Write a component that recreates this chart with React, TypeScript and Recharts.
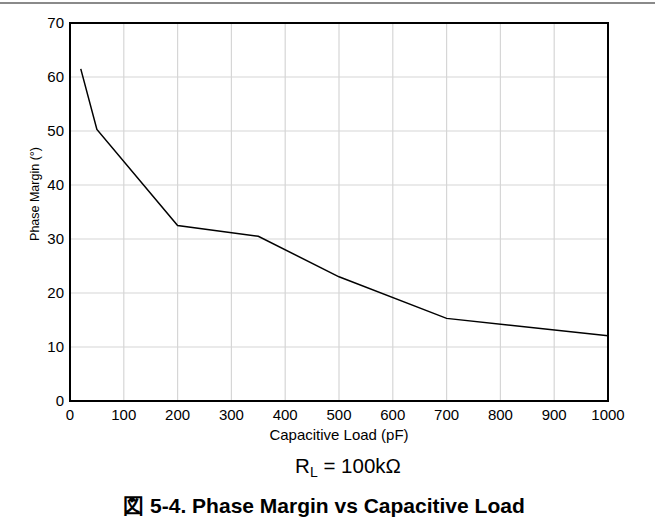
import React from 'react';
import { LineChart, Line, XAxis, YAxis, CartesianGrid, ReferenceArea } from 'recharts';

const capLoad = [20, 50, 200, 350, 500, 700, 1000];
const phaseMargin = [61.5, 50.3, 32.5, 30.5, 23, 15.3, 12.1];
const xTicks = [0, 100, 200, 300, 400, 500, 600, 700, 800, 900, 1000];
const yTicks = [0, 10, 20, 30, 40, 50, 60, 70];

const data = capLoad.map((c, i) => ({ c, pm: phaseMargin[i] }));

const font = '"Liberation Sans", Arial, sans-serif';

export default function App() {
  return (
    <div style={{ position: 'absolute', left: 0, top: 0, width: 655, height: 518, background: '#fff', fontFamily: font }}>
      <div style={{ position: 'absolute', left: 0, top: 2, width: 655, height: 2, background: '#8a8a8a' }} />
      <LineChart
        width={655}
        height={518}
        data={data}
        margin={{ top: 23, right: 47, bottom: 87, left: 0 }}
      >
        <CartesianGrid stroke="#d6d6d6" strokeWidth={1.2} />
        <XAxis
          dataKey="c"
          type="number"
          domain={[0, 1000]}
          ticks={xTicks}
          interval={0}
          height={30}
          tickLine={false}
          axisLine={false}
          tickSize={0}
          tickMargin={8}
          tick={{ fill: '#000', fontSize: 15, fontFamily: font }}
        />
        <YAxis
          type="number"
          domain={[0, 70]}
          ticks={yTicks}
          interval={0}
          width={70}
          tickLine={false}
          axisLine={false}
          tickSize={0}
          tickMargin={6}
          tick={{ fill: '#000', fontSize: 15, fontFamily: font }}
        />
        <ReferenceArea x1={0} x2={1000} y1={0} y2={70} fill="none" stroke="#000" strokeWidth={2} ifOverflow="visible" />
        <Line type="linear" dataKey="pm" stroke="#000" strokeWidth={1.5} dot={false} isAnimationActive={false} />
      </LineChart>
      <div
        style={{
          position: 'absolute',
          left: 35,
          top: 194,
          transform: 'translate(-50%, -50%) rotate(-90deg)',
          fontSize: 12.5,
          whiteSpace: 'nowrap',
          color: '#000',
        }}
      >
        Phase Margin (°)
      </div>
      <div style={{ position: 'absolute', left: 339, top: 434, transform: 'translate(-50%, -50%)', fontSize: 15, whiteSpace: 'nowrap', color: '#000' }}>
        Capacitive Load (pF)
      </div>
      <div style={{ position: 'absolute', left: 348, top: 467, transform: 'translate(-50%, -50%)', fontSize: 20.5, whiteSpace: 'nowrap', color: '#000' }}>
        R<sub style={{ fontSize: 14, verticalAlign: '-0.3em' }}>L</sub> = 100kΩ
      </div>
      <div style={{ position: 'absolute', left: 324, top: 506, transform: 'translate(-50%, -50%)', fontSize: 21, fontWeight: 'bold', whiteSpace: 'nowrap', color: '#000' }}>
        図 5-4. Phase Margin vs Capacitive Load
      </div>
    </div>
  );
}
